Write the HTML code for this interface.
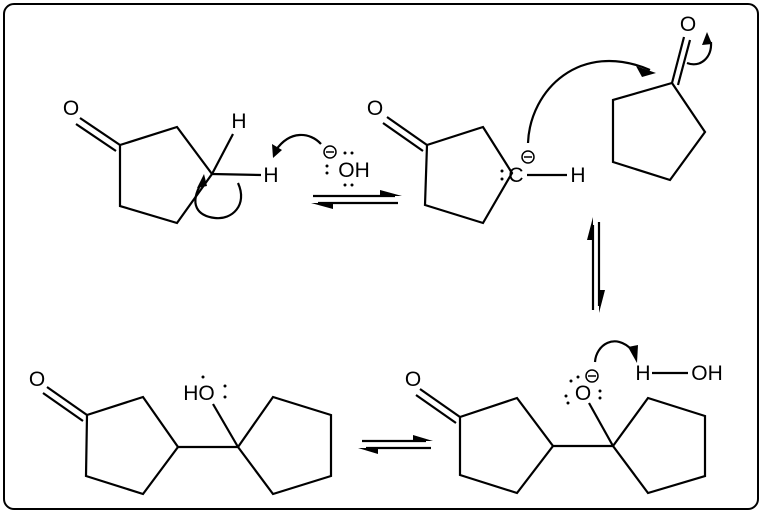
<!DOCTYPE html>
<html><head><meta charset="utf-8"><style>
html,body{margin:0;padding:0;background:#fff;}
svg{display:block;}
</style></head><body>
<svg width="762" height="513" viewBox="0 0 762 513" xmlns="http://www.w3.org/2000/svg">
<rect x="4" y="4" width="754" height="505" rx="10" ry="10" fill="#fff" stroke="#000" stroke-width="2"/>
<g stroke="#000" stroke-width="2.2" fill="none" stroke-linejoin="miter">
<polygon points="120,145 177,127 212,174 177,223 120,206"/>
<line x1="120" y1="145" x2="80" y2="118"/>
<line x1="116" y1="151" x2="76" y2="124"/>
<line x1="212" y1="174" x2="233" y2="134"/>
<line x1="212" y1="174" x2="261" y2="175"/>
<path d="M238,183 C248,205 232,220 215,218 C198,216 188,205 202,182"/>
<path d="M321,144 C310,132 290,130 276,150"/>
<line x1="313" y1="196" x2="395" y2="196"/>
<line x1="318" y1="203" x2="398" y2="203"/>
<polygon points="427,145 483,127 512,173 483,223 425,205"/>
<line x1="427" y1="145" x2="387" y2="117"/>
<line x1="423" y1="151" x2="383" y2="123"/>
<line x1="527" y1="175" x2="567" y2="175"/>
<path d="M528,143 C530,90 580,40 650,70"/>
<polygon points="672,83 705,132 670,180 613,162 613,100"/>
<line x1="672" y1="83" x2="684" y2="37"/>
<line x1="678" y1="85" x2="690" y2="40"/>
<path d="M687,63 C700,68 712,58 711,42"/>
<line x1="593" y1="225" x2="593" y2="310"/>
<line x1="599" y1="222" x2="599" y2="306"/>
<polygon points="87,415 143,397 178,447 143,494 86,476"/>
<line x1="87" y1="415" x2="47" y2="387"/>
<line x1="83" y1="421" x2="43" y2="393"/>
<line x1="178" y1="447" x2="238" y2="447"/>
<polygon points="238,447 273,397 331,415 331,476 273,494"/>
<line x1="238" y1="447" x2="213" y2="404"/>
<line x1="362" y1="441" x2="426" y2="441"/>
<line x1="366" y1="448" x2="431" y2="448"/>
<polygon points="460,417 517,398 553,446 517,493 460,475"/>
<line x1="460" y1="417" x2="420" y2="389"/>
<line x1="456" y1="423" x2="416" y2="395"/>
<line x1="553" y1="446" x2="613" y2="446"/>
<polygon points="613,446 648,398 705,416 705,476 648,493"/>
<line x1="613" y1="446" x2="589" y2="403"/>
<line x1="652" y1="373" x2="688" y2="373"/>
<path d="M595,362 C596,345 615,332 632,350"/>
<circle cx="330" cy="152" r="6" stroke-width="1.5"/>
<circle cx="528" cy="157" r="6" stroke-width="1.5"/>
<circle cx="592" cy="376" r="6" stroke-width="1.5"/>
</g>
<g stroke="#000" stroke-width="1.5">
<line x1="326" y1="152" x2="334" y2="152"/>
<line x1="524" y1="157" x2="532" y2="157"/>
<line x1="588" y1="376" x2="596" y2="376"/>
</g>
<g fill="#000">
<polygon points="204,174 197,188 207,186"/>
<polygon points="273,158 272,144 282,150"/>
<polygon points="402,196 380,190 380,196"/>
<polygon points="311,203 333,209 333,203"/>
<polygon points="656,73 636,66 642,77"/>
<polygon points="707,32 702,45 712,44"/>
<polygon points="593,217 587,240 593,240"/>
<polygon points="599,313 605,290 599,290"/>
<polygon points="433,441 413,435 413,441"/>
<polygon points="358,448 378,454 378,448"/>
<polygon points="637,363 628,347 638,345"/>
<circle cx="327" cy="166" r="1.5"/><circle cx="327" cy="173" r="1.5"/>
<circle cx="345" cy="153" r="1.5"/><circle cx="352" cy="153" r="1.5"/>
<circle cx="345" cy="185" r="1.5"/><circle cx="352" cy="185" r="1.5"/>
<circle cx="502" cy="171" r="1.5"/><circle cx="502" cy="179" r="1.5"/>
<circle cx="203" cy="377" r="1.5"/>
<circle cx="225" cy="386" r="1.5"/><circle cx="225" cy="397" r="1.5"/>
<circle cx="571" cy="381" r="1.5"/><circle cx="578" cy="377" r="1.5"/>
<circle cx="566" cy="396" r="1.5"/><circle cx="568" cy="403" r="1.5"/>
<circle cx="600" cy="391" r="1.5"/><circle cx="600" cy="398" r="1.5"/>
</g>
<g font-family="Liberation Sans, Arial, sans-serif" font-size="21" fill="#000" text-anchor="middle" style="font-size:21px">
<text x="71" y="115">O</text>
<text x="239" y="128">H</text>
<text x="271" y="182">H</text>
<text x="354" y="177">OH</text>
<text x="375" y="115">O</text>
<text x="516" y="182">C</text>
<text x="578" y="182">H</text>
<text x="688" y="31">O</text>
<text x="37" y="386">O</text>
<text x="199" y="400">HO</text>
<text x="413" y="386">O</text>
<text x="583" y="400">O</text>
<text x="643" y="380">H</text>
<text x="707" y="380">OH</text>
</g>
</svg>
</body></html>
